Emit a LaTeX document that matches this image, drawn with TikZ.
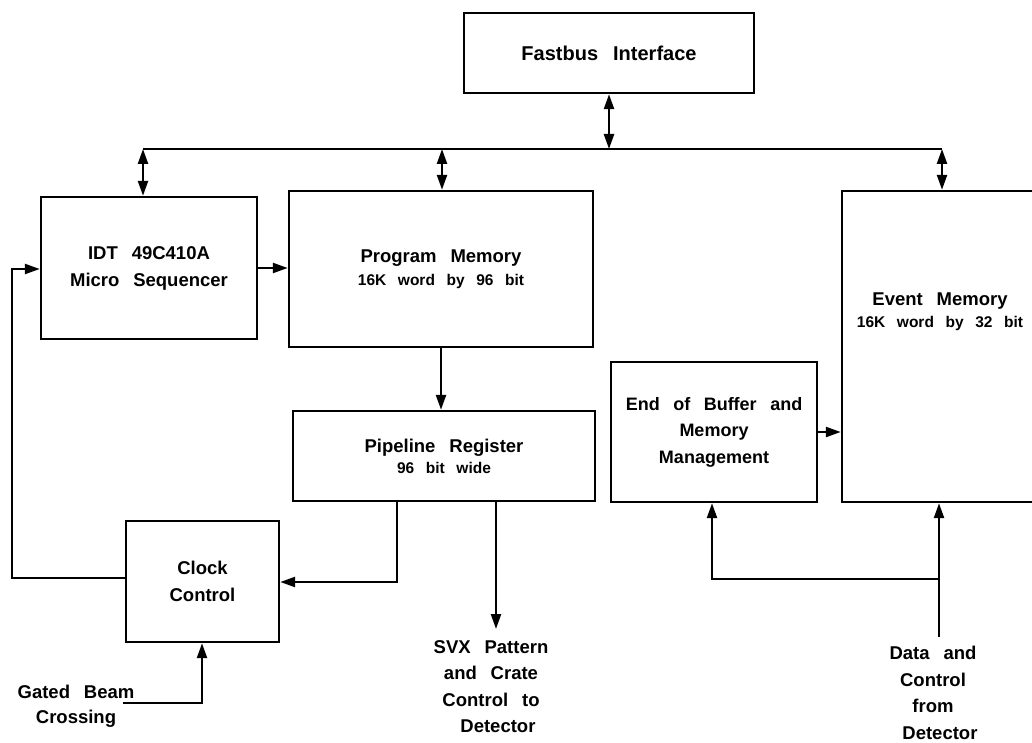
\documentclass[tikz,border=0pt]{standalone}
\usepackage{fontspec}
\setmainfont{Liberation Sans}[WordSpace=2.7]
\usetikzlibrary{arrows.meta}
\begin{document}
\begin{tikzpicture}[x=1pt,y=-1pt,
  line width=2.4pt,
  box/.style={draw, rectangle, inner sep=0pt, align=center,
    font=\bfseries\fontsize{18.5}{27}\selectfont},
  lbl/.style={inner sep=0pt, align=center,
    font=\bfseries\fontsize{18.5}{26.5}\selectfont},
  tip/.tip={Triangle[length=15pt,width=10pt]},
  arr/.style={-tip},
  dbl/.style={tip-tip}]
\useasboundingbox (0,0) rectangle (1032,743);
\fill[white] (0,0) rectangle (1032,743);

% blocks
\node[box, minimum width=290, minimum height=80, font=\bfseries\fontsize{20}{27}\selectfont]
  (fast) at (609,53) {Fastbus Interface};
\node[box, minimum width=216, minimum height=142] (seq) at (149,268)
  {IDT 49C410A\\ Micro Sequencer};
\node[box, minimum width=304, minimum height=156] (prog) at (441,269)
  {Program Memory\\[-4pt] {\fontsize{15.5}{18}\selectfont 16K word by 96 bit}};
\node[box, minimum width=302, minimum height=90] (pipe) at (444,456)
  {Pipeline Register\\[-6pt] {\fontsize{15.5}{18}\selectfont 96 bit wide}};
\begin{scope}
  \clip (0,0) rectangle (1032,743);
  \node[box, minimum width=198, minimum height=311] (evt) at (941,346.5) {};
\end{scope}
\node[lbl, font=\bfseries\fontsize{18.5}{22}\selectfont] (evtxt) at (940,312)
  {Event Memory\\ {\fontsize{15.5}{18}\selectfont 16K word by 32 bit}};
\node[box, minimum width=206, minimum height=140, font=\bfseries\fontsize{18}{26.5}\selectfont]
  (eob) at (714,432)
  {End of Buffer and\\ Memory\\ Management};
\node[box, minimum width=153, minimum height=121] (clock) at (202.5,581.5)
  {Clock\\ Control};

% external labels
\node[lbl, anchor=north] (svx) at (491,639)
  {SVX Pattern\\ and Crate\\ Control to\\ \ Detector};
\node[lbl, anchor=north] (data) at (933,645)
  {Data and\\ Control\\ from\\ \ Detector};
\node[lbl, anchor=north] (gbc) at (76,684)
  {Gated Beam\\[-2pt] Crossing};

% bus
\coordinate (busL) at (143,149);
\coordinate (busP) at (442,149);
\coordinate (busR) at (942,149);
\draw (busL) -- (busR);
\draw[dbl] (fast.south) -- (fast.south |- busL);
\draw[dbl] (busL) -- (busL |- seq.north);
\draw[dbl] (busP) -- (busP |- prog.north);
\draw[dbl] (busR) -- (busR |- evt.north);

% sequencer path
\draw[arr] (seq.east) -- (seq.east -| prog.west);
\draw[arr] (prog.south) -- (prog.south |- pipe.north);

% pipeline outputs
\coordinate (k1) at (397,582);
\draw[arr] (pipe.south -| k1) -- (k1) -- (k1 -| clock.east);
\coordinate (svxend) at (496,629);
\draw[arr] (pipe.south -| svxend) -- (svxend);

% clock feedback to sequencer
\coordinate (k2) at (12,578);
\coordinate (k3) at (12,269);
\draw[arr] (k2 -| clock.west) -- (k2) -- (k3) -- (k3 -| seq.west);

% gated beam crossing input
\coordinate (g1) at (123,703);
\coordinate (g2) at (202,703);
\draw[arr] (g1) -- (g2) -- (g2 |- clock.south);

% event memory inputs
\draw[arr] (eob.east) -- (eob.east -| evt.west);
\coordinate (d0) at (939,637);
\coordinate (d1) at (939,579);
\coordinate (d2) at (712,579);
\draw[arr] (d0) -- (d0 |- evt.south);
\draw[arr] (d1) -- (d2) -- (d2 |- eob.south);
\end{tikzpicture}
\end{document}
